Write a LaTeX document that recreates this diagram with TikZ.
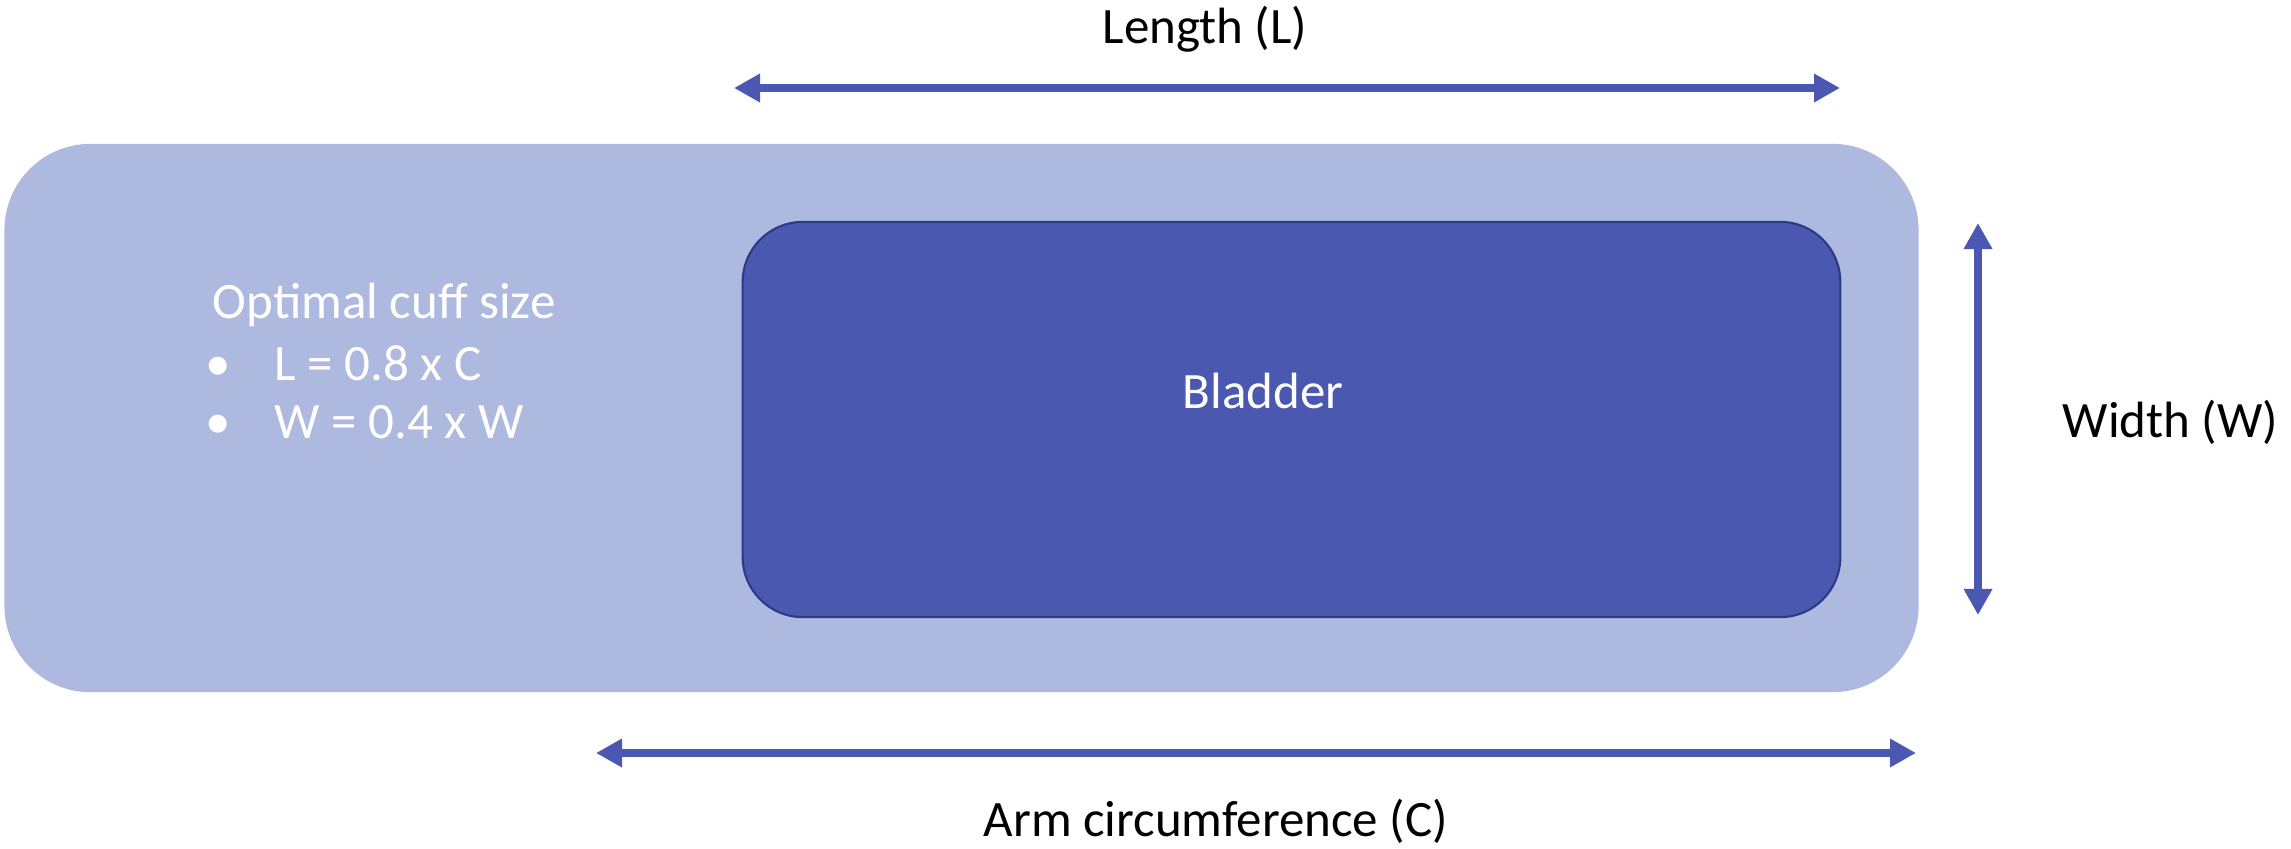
\documentclass[tikz,border=0pt]{standalone}
\usepackage{fontspec}
\setmainfont{Carlito}
\usetikzlibrary{arrows.meta}
\definecolor{cufffill}{RGB}{173,185,223}
\definecolor{bladderfill}{RGB}{74,88,176}
\definecolor{bladderline}{RGB}{46,58,134}
\definecolor{arrowblue}{RGB}{74,88,178}
\tikzset{
  cuffbox/.style={rectangle, rounded corners=0.86cm, fill=cufffill, draw=none, inner sep=0pt,
    minimum width=19.13cm, minimum height=5.48cm},
  bladderbox/.style={rectangle, rounded corners=0.6cm, fill=bladderfill, draw=bladderline, line width=0.6pt,
    inner sep=0pt, minimum width=10.97cm, minimum height=3.95cm},
  lbl/.style={inner sep=0pt, anchor=base west, font=\fontsize{14.5pt}{17pt}\selectfont},
  wlbl/.style={lbl, text=white},
  dimarrow/.style={arrowblue, line width=2.3pt, {Triangle[length=0.26cm,width=0.27cm]}-{Triangle[length=0.26cm,width=0.27cm]}}
}
\begin{document}
\begin{tikzpicture}[x=0.01cm, y=-0.01cm]
\useasboundingbox (0,0) rectangle (2291,848);
\node[cuffbox] (cuff) at (961.5,418) {};
\node[bladderbox] (bladder) at (1291.5,419.5) {};
\node[wlbl] (bladdertext) at (1182,408) {Bladder};
\node[wlbl] (title) at (212,318) {Optimal cuff size};
\node[wlbl, anchor=base] (b1) at (218,380) {•};
\node[wlbl] (item1) at (274,380) {L = 0.8 x C};
\node[wlbl, anchor=base] (b2) at (218,438) {•};
\node[wlbl] (item2) at (274,438) {W = 0.4 x W};
\node[lbl] (lenlbl) at (1102,43) {Length (L)};
\node[lbl] (widlbl) at (2062,437) {Width (W)};
\node[lbl] (armlbl) at (983,836) {Arm circumference (C)};
\coordinate (lenA) at (734,88);
\coordinate (lenB) at (1840,88);
\coordinate (widA) at (1978,223);
\coordinate (widB) at (1978,615);
\coordinate (armA) at (596,753);
\coordinate (armB) at (1916,753);
\draw[dimarrow] (lenA) -- (lenB);
\draw[dimarrow] (widA) -- (widB);
\draw[dimarrow] (armA) -- (armB);
\end{tikzpicture}
\end{document}
